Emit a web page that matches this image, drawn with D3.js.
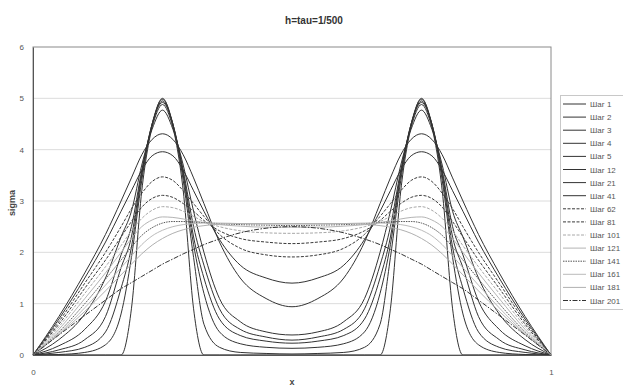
<!DOCTYPE html>
<html>
<head>
<meta charset="utf-8">
<script src="https://cdn.jsdelivr.net/npm/d3@7"></script>
<style>
  body { margin: 0; background: #fff; }
  svg { font-family: "Liberation Sans", Arial, sans-serif; }
</style>
</head>
<body>
<div id="chart"></div>
<script>
const width = 623;
const height = 387;

const xGrid = [0, 0.05, 0.10, 0.14, 0.17, 0.19, 0.21, 0.23, 0.25, 0.27, 0.29, 0.31, 0.33, 0.36, 0.40, 0.45, 0.50,
  0.55, 0.60, 0.64, 0.67, 0.69, 0.71, 0.73, 0.75, 0.77, 0.79, 0.81, 0.83, 0.86, 0.90, 0.95, 1.00];

const stepLabels = ['Шаг 1', 'Шаг 2', 'Шаг 3', 'Шаг 4', 'Шаг 5', 'Шаг 12', 'Шаг 21', 'Шаг 41',
  'Шаг 62', 'Шаг 81', 'Шаг 101', 'Шаг 121', 'Шаг 141', 'Шаг 161', 'Шаг 181', 'Шаг 201'];

const s1 = [0, 0, 0, 0, 0, 0.9, 3.2, 4.45, 5.0, 4.45, 3.2, 0.9, 0, 0, 0, 0, 0,
  0, 0, 0, 0, 0.9, 3.2, 4.45, 5.0, 4.45, 3.2, 0.9, 0, 0, 0, 0, 0];
const s2 = [0, 0.01, 0.05, 0.2, 0.8, 1.9, 3.4, 4.5, 4.98, 4.5, 3.4, 1.9, 0.6, 0.15, 0.05, 0.03, 0.02,
  0.03, 0.05, 0.15, 0.6, 1.9, 3.4, 4.5, 4.98, 4.5, 3.4, 1.9, 0.8, 0.2, 0.05, 0.01, 0];
const s3 = [0, 0.05, 0.15, 0.45, 1.3, 2.1, 3.5, 4.5, 4.95, 4.5, 3.5, 2.15, 1.2, 0.45, 0.22, 0.15, 0.13,
  0.15, 0.22, 0.45, 1.2, 2.15, 3.5, 4.5, 4.95, 4.5, 3.5, 2.1, 1.3, 0.45, 0.15, 0.05, 0];
const s4 = [0, 0.1, 0.3, 0.75, 1.7, 2.3, 3.55, 4.5, 4.92, 4.5, 3.55, 2.3, 1.5, 0.7, 0.38, 0.27, 0.23,
  0.27, 0.38, 0.7, 1.5, 2.3, 3.55, 4.5, 4.92, 4.5, 3.55, 2.3, 1.7, 0.75, 0.3, 0.1, 0];
const s5 = [0, 0.18, 0.5, 1.05, 1.95, 2.5, 3.6, 4.45, 4.88, 4.45, 3.6, 2.5, 1.75, 0.9, 0.5, 0.35, 0.29,
  0.35, 0.5, 0.9, 1.75, 2.5, 3.6, 4.45, 4.88, 4.45, 3.6, 2.5, 1.95, 1.05, 0.5, 0.18, 0];
const s12 = [0, 0.3, 0.8, 1.5, 2.3, 2.8, 3.7, 4.4, 4.77, 4.4, 3.7, 2.8, 2.0, 1.1, 0.65, 0.45, 0.39,
  0.45, 0.65, 1.1, 2.0, 2.8, 3.7, 4.4, 4.77, 4.4, 3.7, 2.8, 2.3, 1.5, 0.8, 0.3, 0];
const s21 = [0, 0.75, 1.6, 2.35, 3.0, 3.45, 3.9, 4.2, 4.31, 4.2, 3.9, 3.45, 2.95, 2.2, 1.5, 1.1, 0.94,
  1.1, 1.5, 2.2, 2.95, 3.45, 3.9, 4.2, 4.31, 4.2, 3.9, 3.45, 3.0, 2.35, 1.6, 0.75, 0];
const s41 = [0, 0.7, 1.5, 2.2, 2.8, 3.2, 3.6, 3.88, 3.96, 3.88, 3.6, 3.2, 2.8, 2.25, 1.75, 1.5, 1.4,
  1.5, 1.75, 2.25, 2.8, 3.2, 3.6, 3.88, 3.96, 3.88, 3.6, 3.2, 2.8, 2.2, 1.5, 0.7, 0];
const s62 = [0, 0.65, 1.4, 2.0, 2.5, 2.85, 3.15, 3.38, 3.47, 3.4, 3.2, 2.95, 2.7, 2.35, 2.08, 1.95, 1.91,
  1.95, 2.08, 2.35, 2.7, 2.95, 3.2, 3.4, 3.47, 3.38, 3.15, 2.85, 2.5, 2.0, 1.4, 0.65, 0];
const s81 = [0, 0.6, 1.3, 1.85, 2.3, 2.6, 2.88, 3.05, 3.11, 3.07, 2.95, 2.8, 2.62, 2.42, 2.27, 2.2, 2.17,
  2.2, 2.27, 2.42, 2.62, 2.8, 2.95, 3.07, 3.11, 3.05, 2.88, 2.6, 2.3, 1.85, 1.3, 0.6, 0];
const s101 = [0, 0.55, 1.2, 1.72, 2.13, 2.42, 2.66, 2.82, 2.89, 2.87, 2.8, 2.7, 2.6, 2.5, 2.42, 2.38, 2.37,
  2.38, 2.42, 2.5, 2.6, 2.7, 2.8, 2.87, 2.89, 2.82, 2.66, 2.42, 2.13, 1.72, 1.2, 0.55, 0];
const s121 = [0, 0.5, 1.1, 1.6, 2.0, 2.27, 2.5, 2.63, 2.69, 2.68, 2.65, 2.61, 2.58, 2.54, 2.51, 2.49, 2.49,
  2.49, 2.51, 2.54, 2.58, 2.61, 2.65, 2.68, 2.69, 2.63, 2.5, 2.27, 2.0, 1.6, 1.1, 0.5, 0];
const s141 = [0, 0.45, 1.0, 1.48, 1.85, 2.1, 2.33, 2.48, 2.57, 2.6, 2.6, 2.59, 2.58, 2.56, 2.54, 2.53, 2.52,
  2.53, 2.54, 2.56, 2.58, 2.59, 2.6, 2.6, 2.57, 2.48, 2.33, 2.1, 1.85, 1.48, 1.0, 0.45, 0];
const s161 = [0, 0.42, 0.92, 1.36, 1.7, 1.93, 2.15, 2.32, 2.43, 2.5, 2.54, 2.56, 2.57, 2.57, 2.56, 2.55, 2.55,
  2.55, 2.56, 2.57, 2.57, 2.56, 2.54, 2.5, 2.43, 2.32, 2.15, 1.93, 1.7, 1.36, 0.92, 0.42, 0];
const s181 = [0, 0.4, 0.85, 1.25, 1.56, 1.77, 1.97, 2.14, 2.27, 2.37, 2.44, 2.49, 2.52, 2.55, 2.56, 2.56, 2.56,
  2.56, 2.56, 2.55, 2.52, 2.49, 2.44, 2.37, 2.27, 2.14, 1.97, 1.77, 1.56, 1.25, 0.85, 0.4, 0];
const s201 = [0, 0.39, 0.77, 1.07, 1.29, 1.41, 1.53, 1.65, 1.77, 1.87, 1.97, 2.06, 2.15, 2.26, 2.38, 2.47, 2.5,
  2.47, 2.38, 2.26, 2.15, 2.06, 1.97, 1.87, 1.77, 1.65, 1.53, 1.41, 1.29, 1.07, 0.77, 0.39, 0];

const yTicks = [0, 1, 2, 3, 4, 5, 6];
const xTicks = [0, 1];

const values = [s1, s2, s3, s4, s5, s12, s21, s41, s62, s81, s101, s121, s141, s161, s181, s201];

// line look per step, same order as the legend
const styles = [
  { c: '#333', d: null }, { c: '#333', d: null }, { c: '#333', d: null }, { c: '#333', d: null },
  { c: '#333', d: null }, { c: '#333', d: null }, { c: '#333', d: null }, { c: '#333', d: null },
  { c: '#3a3a3a', d: '3,1.5' }, { c: '#3a3a3a', d: '3,1.5' }, { c: '#a8a8a8', d: '3,1.5' }, { c: '#b4b4b4', d: null },
  { c: '#555', d: '1.5,1' }, { c: '#bbb', d: null }, { c: '#b0b0b0', d: null }, { c: '#333', d: '5,1.5,1.5,1.5' }
];

const series = stepLabels.map((name, i) => ({
  name: name,
  points: xGrid.map((x, j) => ({ x: x, y: values[i][j] })),
  style: styles[i]
}));

const svg = d3.select('#chart').append('svg')
  .attr('width', width)
  .attr('height', height);

const xScale = d3.scaleLinear().domain([0, 1]).range([33, 551]);
const yScale = d3.scaleLinear().domain([0, 6]).range([355, 47]);

// grid
svg.append('g')
  .selectAll('line')
  .data(yTicks.slice(1, -1))
  .enter()
  .append('line')
  .attr('x1', xScale(0))
  .attr('x2', xScale(1))
  .attr('y1', d => yScale(d))
  .attr('y2', d => yScale(d))
  .attr('stroke', '#dcdcdc')
  .attr('stroke-width', 1);

// plot frame
svg.append('rect')
  .attr('x', xScale(0))
  .attr('y', yScale(6))
  .attr('width', xScale(1) - xScale(0))
  .attr('height', yScale(0) - yScale(6))
  .attr('fill', 'none')
  .attr('stroke', '#8a8a8a')
  .attr('stroke-width', 1);

const line = d3.line()
  .x(d => xScale(d.x))
  .y(d => yScale(d.y))
  .curve(d3.curveMonotoneX);

svg.append('g')
  .selectAll('path')
  .data(series)
  .enter()
  .append('path')
  .attr('d', d => line(d.points))
  .attr('fill', 'none')
  .attr('stroke', d => d.style.c)
  .attr('stroke-width', 1)
  .attr('stroke-dasharray', d => d.style.d);

// axes
const yAxis = svg.append('g')
  .attr('transform', `translate(${xScale(0)},0)`)
  .call(d3.axisLeft(yScale).tickValues(yTicks).tickFormat(d3.format('d')).tickSize(0).tickPadding(9));
const xAxis = svg.append('g')
  .attr('transform', `translate(0,${yScale(0)})`)
  .call(d3.axisBottom(xScale).tickValues(xTicks).tickFormat(d3.format('d')).tickSize(0).tickPadding(14));

[yAxis, xAxis].forEach(a => {
  a.select('.domain').attr('stroke', '#555');
  a.selectAll('text').attr('fill', '#555').style('font-size', '8px');
});

// titles
svg.append('text')
  .attr('x', 314)
  .attr('y', 24)
  .attr('text-anchor', 'middle')
  .style('font-size', '10px')
  .style('font-weight', 'bold')
  .attr('fill', '#333')
  .text('h=tau=1/500');

svg.append('text')
  .attr('transform', 'translate(15,203) rotate(-90)')
  .attr('text-anchor', 'middle')
  .style('font-size', '9px')
  .style('font-weight', 'bold')
  .attr('fill', '#444')
  .text('sigma');

svg.append('text')
  .attr('x', 292)
  .attr('y', 385)
  .attr('text-anchor', 'middle')
  .style('font-size', '9px')
  .style('font-weight', 'bold')
  .attr('fill', '#444')
  .text('x');

// legend
const legend = svg.append('g');
legend.append('rect')
  .attr('x', 560.5)
  .attr('y', 95.5)
  .attr('width', 80)
  .attr('height', 214)
  .attr('fill', '#fff')
  .attr('stroke', '#c8c8c8');

const rows = legend.selectAll('g.row')
  .data(series)
  .enter()
  .append('g')
  .attr('class', 'row')
  .attr('transform', (d, i) => `translate(0,${104 + i * 13.1})`);

rows.append('line')
  .attr('x1', 563)
  .attr('x2', 586)
  .attr('stroke', d => d.style.c)
  .attr('stroke-width', 1)
  .attr('stroke-dasharray', d => d.style.d);

rows.append('text')
  .attr('x', 590)
  .attr('y', 3)
  .style('font-size', '8px')
  .attr('fill', '#555')
  .text(d => d.name);
</script>
</body>
</html>
